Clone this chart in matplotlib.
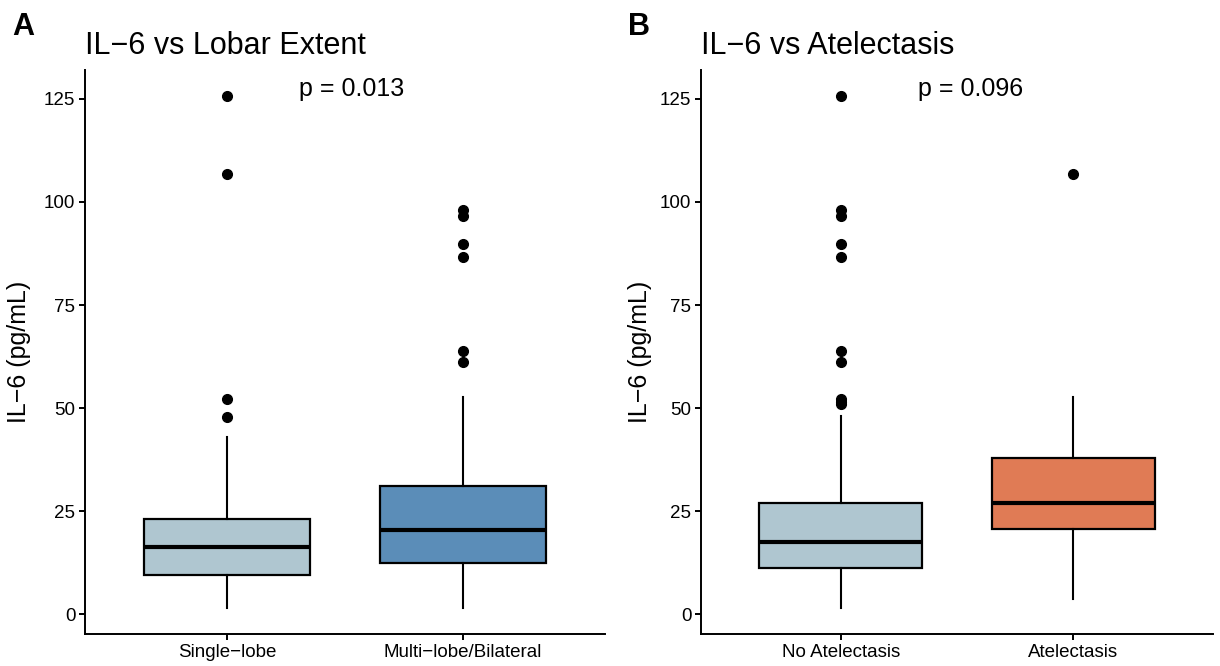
#!/usr/bin/env python3
"""
IL-6 boxplots: lobar extent and atelectasis, two panels
"""

import matplotlib
matplotlib.use('Agg')
import matplotlib.pyplot as plt

plt.rcParams['font.family'] = ['Liberation Sans', 'DejaVu Sans']

# ---- Panel A: lobar extent ----
lobar_groups = ['Single\u2212lobe', 'Multi\u2212lobe/Bilateral']
lobar_q1 = [9.4, 12.5]
lobar_med = [16.2, 20.5]
lobar_q3 = [23.2, 31.0]
lobar_whislo = [1.6, 1.6]
lobar_whishi = [43.1, 52.8]
lobar_outliers = [[125.6, 106.8, 52.2, 47.9],
                  [98.1, 96.5, 89.9, 86.7, 63.9, 61.1]]
lobar_colors = ['#AFC6D0', '#5B8DB8']
lobar_p = 'p = 0.013'

# ---- Panel B: atelectasis ----
atel_groups = ['No Atelectasis', 'Atelectasis']
atel_q1 = [11.1, 20.6]
atel_med = [17.6, 27.0]
atel_q3 = [27.0, 37.8]
atel_whislo = [1.6, 3.6]
atel_whishi = [48.0, 52.8]
atel_outliers = [[125.6, 98.1, 96.5, 89.9, 86.7, 63.9, 61.1, 52.2, 51.4, 50.9],
                 [106.8]]
atel_colors = ['#AFC6D0', '#E07B55']
atel_p = 'p = 0.096'

y_ticks = [0, 25, 50, 75, 100, 125]


def draw_panel(ax, groups, q1, med, q3, lo, hi, outliers, colors, title,
               tag, ptext, px, ylab_x):
    stats = []
    for i, g in enumerate(groups):
        stats.append(dict(label=g, q1=q1[i], med=med[i], q3=q3[i],
                          whislo=lo[i], whishi=hi[i], fliers=outliers[i]))
    bp = ax.bxp(stats, positions=[1, 2], widths=0.70, patch_artist=True,
                showcaps=False, showfliers=True,
                boxprops=dict(edgecolor='black', linewidth=1.6),
                whiskerprops=dict(color='black', linewidth=1.5),
                medianprops=dict(color='black', linewidth=3.0,
                                 solid_capstyle='butt'),
                flierprops=dict(marker='o', markerfacecolor='black',
                                markeredgecolor='black', markersize=7,
                                linestyle='none'))
    for patch, c in zip(bp['boxes'], colors):
        patch.set_facecolor(c)

    ax.set_xlim(0.4, 2.6)
    ax.set_ylim(-4.8, 132.0)
    ax.set_yticks(y_ticks)
    ax.set_xticks([1, 2])
    ax.set_xticklabels(groups)
    for s in ['top', 'right']:
        ax.spines[s].set_visible(False)
    for s in ['left', 'bottom']:
        ax.spines[s].set_linewidth(1.4)
    ax.tick_params(axis='both', labelsize=13.5, width=1.4, length=4,
                   colors='black', pad=3)
    ax.set_ylabel('IL\u22126 (pg/mL)', fontsize=18)
    ax.yaxis.set_label_coords(ylab_x, 0.5)

    ax.text(px, 125.8, ptext, fontsize=18, ha='center', va='baseline')

    bb = ax.get_position()
    fig = ax.figure
    fig.text(bb.x0, 1 - 54 / 666, title, fontsize=22, ha='left',
             va='baseline')
    fig.text(bb.x0 - 73 / 1220, 1 - 35 / 666, tag, fontsize=22,
             fontweight='bold', ha='left', va='baseline')


fig = plt.figure(figsize=(12.2, 6.66), dpi=100)
ax1 = fig.add_axes([85 / 1220, 32 / 666, 520 / 1220, 564 / 666])
ax2 = fig.add_axes([701 / 1220, 32 / 666, 512 / 1220, 564 / 666])

draw_panel(ax1, lobar_groups, lobar_q1, lobar_med, lobar_q3, lobar_whislo,
           lobar_whishi, lobar_outliers, lobar_colors,
           'IL\u22126 vs Lobar Extent', 'A', lobar_p, 1.53, -0.104)
draw_panel(ax2, atel_groups, atel_q1, atel_med, atel_q3, atel_whislo,
           atel_whishi, atel_outliers, atel_colors,
           'IL\u22126 vs Atelectasis', 'B', atel_p, 1.557, -0.095)

fig.savefig('out.png', dpi=100)
plt.close(fig)
